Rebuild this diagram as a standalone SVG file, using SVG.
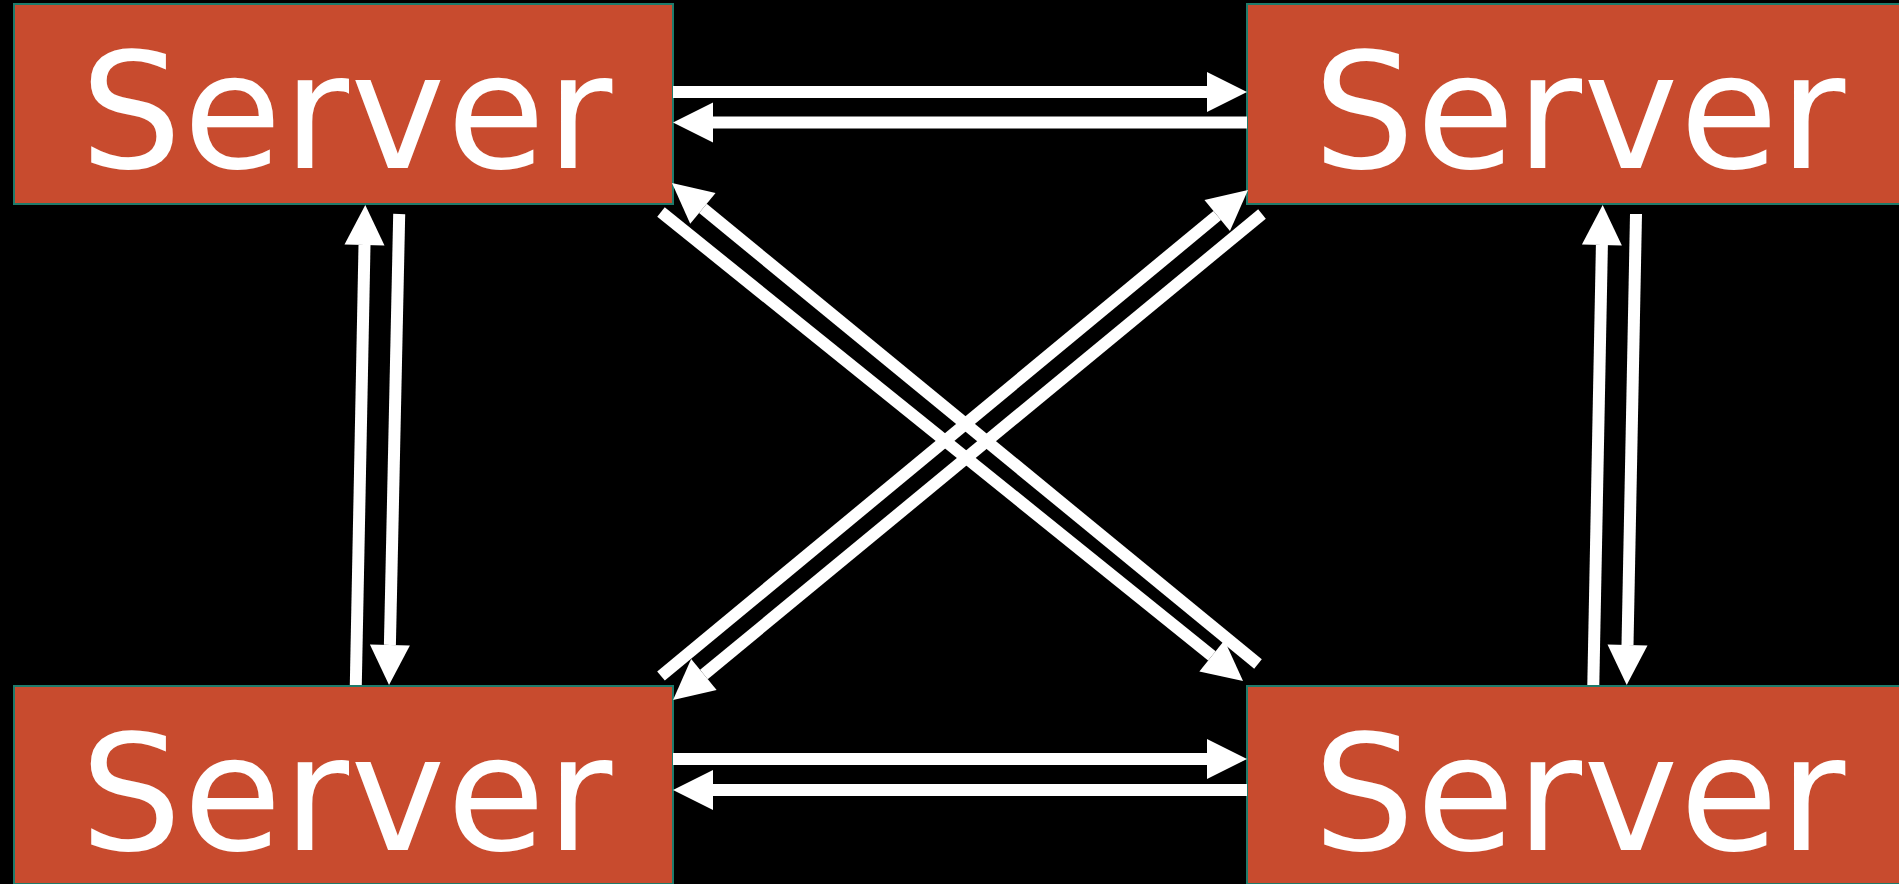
<svg xmlns="http://www.w3.org/2000/svg" width="1899" height="884" viewBox="0 0 1899 884">
<style>
.box{fill:#C84B2E;stroke:#1E7B6B;stroke-width:2}
.lbl{fill:#FFFFFF;font-family:"DejaVu Sans","Liberation Sans",sans-serif;font-size:160px;letter-spacing:1.5px;text-anchor:middle}
.arr{stroke:#FFFFFF;stroke-width:12;fill:none;stroke-linecap:butt;marker-end:url(#head)}
</style>
<defs>
<marker id="head" markerUnits="userSpaceOnUse" markerWidth="42" markerHeight="42" viewBox="0 -21 42 42" refX="0" refY="0" orient="auto" overflow="visible">
<path d="M0,-20 L40,0 L0,20 Z" fill="#FFFFFF"/>
</marker>
</defs>
<rect x="0" y="0" width="1899" height="884" fill="#000000"/>
<g id="server-tl"><rect class="box" x="14" y="4" width="659" height="200"/><text class="lbl" x="347" y="168">Server</text></g>
<g id="server-tr"><rect class="box" x="1247" y="4" width="659" height="200"/><text class="lbl" x="1580" y="168">Server</text></g>
<g id="server-bl"><rect class="box" x="14" y="686" width="659" height="198"/><text class="lbl" x="347" y="850">Server</text></g>
<g id="server-br"><rect class="box" x="1247" y="686" width="659" height="198"/><text class="lbl" x="1580" y="850">Server</text></g>
<g id="connectors">
<line class="arr" x1="673" y1="92" x2="1207" y2="92"/>
<line class="arr" x1="1247" y1="122.5" x2="713" y2="122.5"/>
<line class="arr" x1="673" y1="759" x2="1207" y2="759"/>
<line class="arr" x1="1247" y1="790" x2="713" y2="790"/>
<line class="arr" x1="355.8" y1="685" x2="364.5" y2="245"/>
<line class="arr" x1="399.2" y1="214" x2="389.9" y2="645"/>
<line class="arr" x1="1593.3" y1="685" x2="1601.9" y2="245"/>
<line class="arr" x1="1636" y1="214" x2="1627.5" y2="645"/>
<line class="arr" x1="1258" y1="664" x2="702.9" y2="208.4"/>
<line class="arr" x1="661" y1="212" x2="1211.9" y2="655.9"/>
<line class="arr" x1="661" y1="676" x2="1217.2" y2="215.5"/>
<line class="arr" x1="1262" y1="214" x2="703.9" y2="674.5"/>
</g>
</svg>
